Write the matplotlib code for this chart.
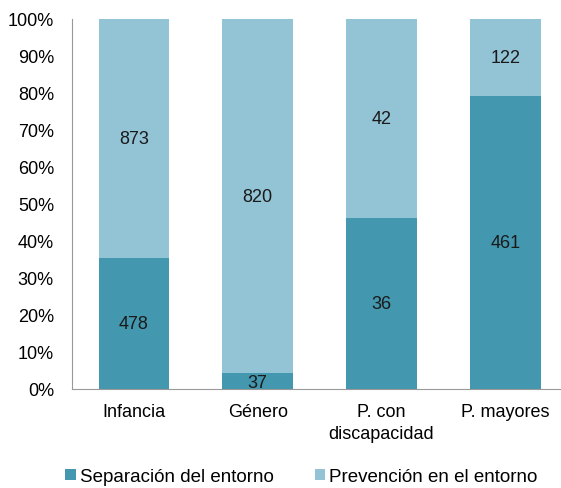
import matplotlib.pyplot as plt
import numpy as np

plt.rcParams['font.family'] = ['Liberation Sans', 'DejaVu Sans']

categorias = ["Infancia", "Género", "P. con\ndiscapacidad", "P. mayores"]
separacion = [478, 37, 36, 461]
prevencion = [873, 820, 42, 122]

c_sep = "#4397AE"
c_prev = "#93C4D6"

sep = np.array(separacion, dtype=float)
prev = np.array(prevencion, dtype=float)
total = sep + prev
p_sep = sep / total * 100
p_prev = prev / total * 100

fig = plt.figure(figsize=(5.61, 4.89), dpi=100)
ax = fig.add_axes([72 / 561, 1 - 390 / 489, 1 - 72 / 561, 370 / 489])

x = np.arange(len(categorias))
w = 0.57
ax.bar(x, p_sep, w, color=c_sep, label="Separación del entorno")
ax.bar(x, p_prev, w, bottom=p_sep, color=c_prev, label="Prevención en el entorno")

for i in range(len(x)):
    ax.text(x[i], p_sep[i] / 2 if p_sep[i] > 10 else p_sep[i] / 2 - 0.5, str(separacion[i]),
            ha="center", va="center", fontsize=13, color="#1a1a1a")
    ax.text(x[i], p_sep[i] + p_prev[i] / 2, str(prevencion[i]),
            ha="center", va="center", fontsize=13, color="#1a1a1a")

ax.set_ylim(0, 100)
ax.set_xlim(-0.5, 3.45)
ax.set_yticks(range(0, 101, 10))
ax.set_yticklabels([f"{v}%" for v in range(0, 101, 10)], fontsize=13)
ax.set_xticks(x)
ax.set_xticklabels(categorias, fontsize=13, linespacing=1.4)
ax.tick_params(axis="both", length=0)
ax.tick_params(axis="x", pad=10)
ax.tick_params(axis="y", pad=13)
for s in ["top", "right"]:
    ax.spines[s].set_visible(False)
ax.spines["left"].set_color("#999999")
ax.spines["bottom"].set_color("#999999")

fig.legend(loc="lower center", bbox_to_anchor=(0.537, -0.028), ncol=2, frameon=False,
           fontsize=13.5, handlelength=0.55, handleheight=0.55, handletextpad=0.2,
           columnspacing=2.2)

fig.savefig("out.png", dpi=100)
